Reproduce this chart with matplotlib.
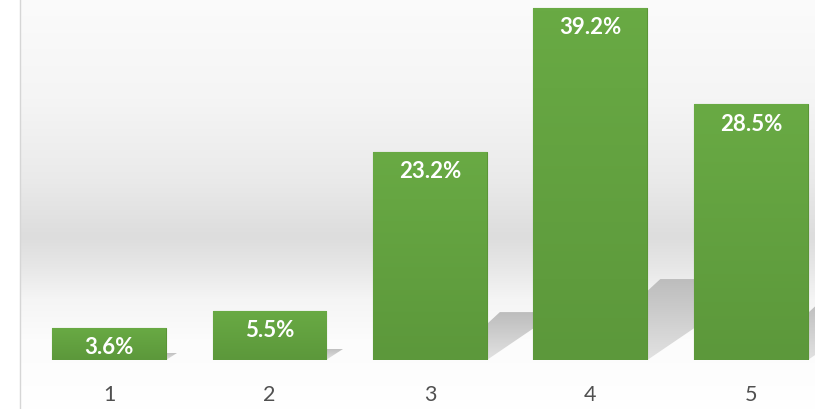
import numpy as np
import matplotlib
matplotlib.use("Agg")
import matplotlib.pyplot as plt
from matplotlib.colors import LinearSegmentedColormap
from matplotlib.patches import Polygon

categories = ["1", "2", "3", "4", "5"]
values = [3.6, 5.5, 23.2, 39.2, 28.5]
labels = ["3.6%", "5.5%", "23.2%", "39.2%", "28.5%"]

W, H = 815, 410
fig = plt.figure(figsize=(W / 100, H / 100), dpi=100)
fig.patch.set_facecolor("white")

# background: soft gray band like a wall meeting a floor
bg = fig.add_axes([0, 0, 1, 1], zorder=0)
bg.set_xlim(0, W)
bg.set_ylim(H, 0)
bg.axis("off")
rows = np.arange(H)
stops_y = [0, 100, 180, 237, 265, 300, 340, 410]
stops_v = [251, 245, 234, 221, 230, 245, 252, 255]
prof = np.interp(rows, stops_y, stops_v) / 255.0
img = np.repeat(prof[:, None], 2, axis=1)
bg.imshow(np.dstack([img, img, img]), extent=(20, W, H, 0), aspect="auto",
          interpolation="bilinear")
bg.plot([20, 20], [0, H], color="#d6d6d6", lw=1)

ax = fig.add_axes([20 / W, (H - 361) / H, 1 - 20 / W, 361 / H], zorder=1)
ax.patch.set_alpha(0)
x = np.arange(1, len(values) + 1)
ax.set_xlim(0.445, 5.40)
ax.set_ylim(0, 40.2)

bw = 0.71
bars = ax.bar(x, values, width=bw, color="#64a23e", edgecolor="#5a9536",
              linewidth=0.8, zorder=3)

green = LinearSegmentedColormap.from_list("g", ["#5c983b", "#69aa44"])
shade = LinearSegmentedColormap.from_list("s", ["#e2e2e2", "#bdbdbd"])
grad = np.linspace(0, 1, 100)[:, None]

# px -> data scales
px_x = 1 / 160.4
px_y = 40.2 / 361
slope = 0.68 * px_y / px_x

for b, v in zip(bars, values):
    x0 = b.get_x()
    xr = x0 + b.get_width()
    # shadow cast to the right of each bar
    hs = 0.23 * v
    run = hs / slope
    if hs > 30 * px_y:
        pts = [(xr, 0), (xr, hs - 12 * px_y), (xr + 13 * px_x, hs), (xr + run, hs)]
    else:
        pts = [(xr, 0), (xr, hs), (xr + run, hs)]
    poly = Polygon(pts, closed=True, facecolor="none", edgecolor="none")
    ax.add_patch(poly)
    im = ax.imshow(grad, cmap=shade, extent=(xr, xr + run, 0, hs),
                   origin="lower", aspect="auto", zorder=2)
    im.set_clip_path(poly)
    # bar gradient
    gi = ax.imshow(grad, cmap=green, extent=(x0, xr, 0, v), origin="lower",
                   aspect="auto", zorder=3.5)
    gi.set_clip_path(b)

ax.set_xlim(0.445, 5.40)
ax.set_ylim(0, 40.2)

for xi, v, lab in zip(x, values, labels):
    ax.text(xi, v - 19 * px_y, lab, ha="center", va="center", color="white",
            fontsize=16, fontweight="bold", family="Lato", zorder=5)

ax.set_xticks(x)
ax.set_xticklabels(categories, family="Lato", fontsize=15.5, color="#505050")
ax.tick_params(axis="x", length=0, pad=17)
ax.set_yticks([])
for s in ax.spines.values():
    s.set_visible(False)

fig.savefig("out.png", dpi=100)
